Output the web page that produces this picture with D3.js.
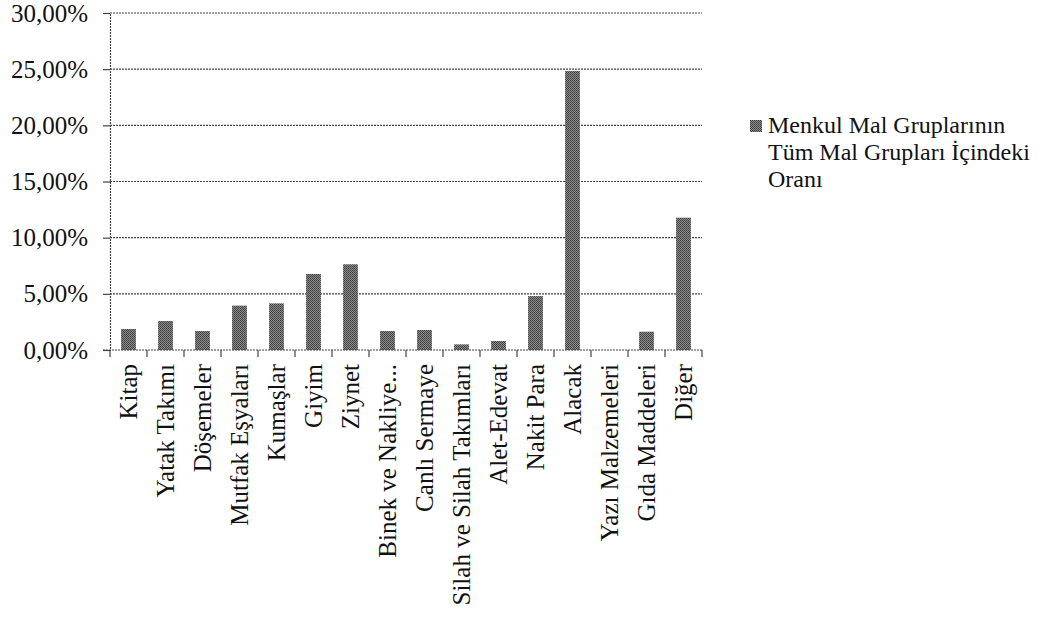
<!DOCTYPE html>
<html>
<head>
<meta charset="utf-8">
<script src="https://cdn.jsdelivr.net/npm/d3@7"></script>
<style>
  body { margin: 0; background: #fff; }
  svg { display: block; }
</style>
</head>
<body>
<svg id="chart" width="1057" height="620"></svg>
<script>
// Kategoriler ve oranlar.
const categories = [
    "Kitap", "Yatak Takımı", "Döşemeler", "Mutfak Eşyaları", "Kumaşlar",
    "Giyim", "Ziynet", "Binek ve Nakliye...", "Canlı Sermaye",
    "Silah ve Silah Takımları", "Alet-Edevat", "Nakit Para", "Alacak",
    "Yazı Malzemeleri", "Gıda Maddeleri", "Diğer"
];
const values = [
    0.0187, 0.0258, 0.0169, 0.0395, 0.0415, 0.0677, 0.0763, 0.0169,
    0.0178, 0.0050, 0.0080, 0.0480, 0.2484, 0.0000, 0.0163, 0.1178
];
const yTicks = [0, 0.05, 0.10, 0.15, 0.20, 0.25, 0.30];
const legendLines = ["Menkul Mal Gruplarının", "Tüm Mal Grupları İçindeki", "Oranı"];

const serif = "'Liberation Serif', 'Times New Roman', serif";
const svg = d3.select("#chart");
const plot = { left: 110, right: 702, top: 13, bottom: 350 };

// Motif gris trame, comme la version scannee.
const defs = svg.append("defs");
const pattern = defs.append("pattern")
    .attr("id", "dither")
    .attr("width", 2)
    .attr("height", 2)
    .attr("patternUnits", "userSpaceOnUse");
pattern.append("rect").attr("width", 2).attr("height", 2).attr("fill", "#8c8c8c");
pattern.append("rect").attr("width", 1).attr("height", 1).attr("fill", "#3c3c3c");
pattern.append("rect").attr("x", 1).attr("y", 1).attr("width", 1).attr("height", 1).attr("fill", "#4a4a4a");

const x = d3.scaleBand()
    .domain(categories)
    .range([plot.left, plot.right])
    .paddingInner(0.6)
    .paddingOuter(0.3);

const y = d3.scaleLinear()
    .domain([0, 0.30])
    .range([plot.bottom, plot.top]);

function formatPercent(v) {
    return d3.format(".2f")(v * 100).replace(".", ",") + "%";
}

// Lignes de grille horizontales.
svg.append("g")
    .selectAll("line")
    .data(yTicks.filter(function(t) { return t > 0; }))
    .enter()
    .append("line")
    .attr("x1", plot.left)
    .attr("x2", plot.right)
    .attr("y1", function(d) { return y(d); })
    .attr("y2", function(d) { return y(d); })
    .attr("stroke", "#444")
    .attr("stroke-width", 1.2)
    .attr("stroke-dasharray", "2,1");

// Axe Y.
const yAxis = svg.append("g")
    .attr("transform", "translate(" + plot.left + ",0)")
    .call(d3.axisLeft(y)
        .tickValues(yTicks)
        .tickFormat(formatPercent)
        .tickSize(7)
        .tickPadding(15));
yAxis.attr("font-family", serif).attr("font-size", 25);
yAxis.select(".domain").attr("stroke", "#444").attr("stroke-width", 1.2).attr("stroke-dasharray", "2,1");
yAxis.selectAll(".tick line").attr("stroke", "#444").attr("stroke-width", 1.2);
yAxis.selectAll(".tick text").attr("fill", "#111");

// Barres.
svg.append("g")
    .selectAll("rect")
    .data(values)
    .enter()
    .append("rect")
    .attr("x", function(d, i) { return x(categories[i]); })
    .attr("y", function(d) { return y(d); })
    .attr("width", x.bandwidth())
    .attr("height", function(d) { return y(0) - y(d); })
    .attr("fill", "url(#dither)");

// Axe X : ligne de base et graduations entre les categories.
const boundaries = d3.range(categories.length + 1).map(function(i) {
    return plot.left + i * x.step();
});
svg.append("line")
    .attr("x1", plot.left - 7)
    .attr("x2", plot.right)
    .attr("y1", y(0))
    .attr("y2", y(0))
    .attr("stroke", "#444")
    .attr("stroke-width", 1.2)
    .attr("stroke-dasharray", "2,1");
svg.append("g")
    .selectAll("line")
    .data(boundaries)
    .enter()
    .append("line")
    .attr("x1", function(d) { return d; })
    .attr("x2", function(d) { return d; })
    .attr("y1", y(0))
    .attr("y2", y(0) + 7)
    .attr("stroke", "#444")
    .attr("stroke-width", 1.2);

// Etiquettes verticales.
svg.append("g")
    .attr("font-family", serif)
    .attr("font-size", 25)
    .attr("fill", "#111")
    .selectAll("text")
    .data(categories)
    .enter()
    .append("text")
    .attr("transform", function(d) {
        return "translate(" + (x(d) + x.bandwidth() / 2) + "," + (y(0) + 14) + ") rotate(-90)";
    })
    .attr("text-anchor", "end")
    .attr("dy", "0.35em")
    .text(function(d) { return d; });

// Legende.
const legend = svg.append("g")
    .attr("transform", "translate(750,120)")
    .attr("font-family", serif)
    .attr("font-size", 24)
    .attr("fill", "#111");
legend.append("rect")
    .attr("width", 12)
    .attr("height", 12)
    .attr("fill", "url(#dither)");
legend.selectAll("text")
    .data(legendLines)
    .enter()
    .append("text")
    .attr("x", 18)
    .attr("y", function(d, i) { return 13 + i * 27; })
    .text(function(d) { return d; });
</script>
</body>
</html>
